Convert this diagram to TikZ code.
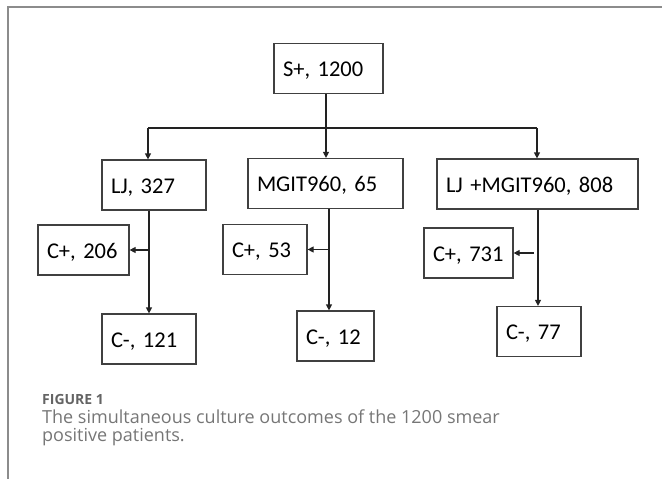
\documentclass[tikz,border=0pt]{standalone}
\usepackage{fontspec}
\setmainfont{Open Sans}
\newfontfamily\calibri{Carlito}
\usepackage{tikz}
\usetikzlibrary{positioning, arrows.meta, calc}

\definecolor{framegrey}{HTML}{8C8C8C}
\definecolor{boxgrey}{HTML}{404040}
\definecolor{linkgrey}{HTML}{222222}
\definecolor{capgrey}{HTML}{767676}

\tikzset{
  box/.style={draw=boxgrey, line width=1.2pt, align=left,
    font=\calibri\fontsize{22.5}{27}\selectfont,
    inner xsep=9pt, inner ysep=0pt, minimum height=50pt,
    text height=18pt, text depth=2pt},
  link/.style={draw=linkgrey, line width=1.2pt},
}

\begin{document}
\begin{tikzpicture}[x=1pt, y=-1pt, >={Triangle[length=6pt, width=6pt]}]
    \useasboundingbox (0,0) rectangle (662,479);
    % frame
    \draw[framegrey, line width=1.6pt] (8,479) -- (8,7) -- (662,7);
    % smear positive
    \node[box, text width=91pt] (top) at (328.5,68.5) {S+, 1200};
    % culture media
    \node[box, text width=86pt] (lj) at (154,185) {LJ, 327};
    \node[box, text width=137pt] (mgit) at (325.5,183.5) {MGIT960, 65};
    \node[box, text width=183pt] (ljm) at (537.5,184) {LJ +MGIT960, 808};
    % outcomes
    \node[box, text width=73pt] (ljpos) at (83.5,250) {C+, 206};
    \node[box, text width=76pt] (ljneg) at (149,339) {C-, 121};
    \node[box, text width=66pt] (mgpos) at (265,249.5) {C+, 53};
    \node[box, text width=59pt] (mgneg) at (335.5,336) {C-, 12};
    \node[box, text width=71pt] (ljmpos) at (468.5,253) {C+, 731};
    \node[box, text width=66pt] (ljmneg) at (539,331.5) {C-, 77};
    % split
    \coordinate (busl) at (148,128);
    \coordinate (busr) at (537,128);
    \draw[link] (busl) -- (busr);
    \draw[link, ->] ([xshift=-2.5pt]top.south) -- ([xshift=-2.5pt]top.south |- mgit.north);
    \draw[link, ->] (busl) -- (busl |- lj.north);
    \draw[link, ->] (busr) -- (busr |- ljm.north);
    % stems
    \draw[link, ->] ([xshift=-5pt]lj.south) -- ([xshift=-5pt]lj.south |- ljneg.north);
    \draw[link, ->] ([xshift=-5pt]lj.south |- ljpos.east) -- (ljpos.east);
    \draw[link, ->] ([xshift=3.5pt]mgit.south) -- ([xshift=3.5pt]mgit.south |- mgneg.north);
    \draw[link, ->] ([xshift=3.5pt]mgit.south |- mgpos.east) -- (mgpos.east);
    \draw[link, ->] ([xshift=0.5pt]ljm.south) -- ([xshift=0.5pt]ljm.south |- ljmneg.north);
    \draw[link, ->] ([xshift=-4pt]ljm.south |- ljmpos.east) -- (ljmpos.east);
    % caption
    \node[anchor=base west, inner sep=0pt, text=capgrey!85!black,
      font=\bfseries\fontsize{14}{17}\selectfont] (figlabel) at (42,404) {FIGURE 1};
    \node[anchor=north west, inner sep=0pt, align=left, text=capgrey,
      font=\fontsize{18}{18}\selectfont] (caption) at (42,409.7)
      {The simultaneous culture outcomes of the 1200 smear\\positive patients.};
\end{tikzpicture}
\end{document}
